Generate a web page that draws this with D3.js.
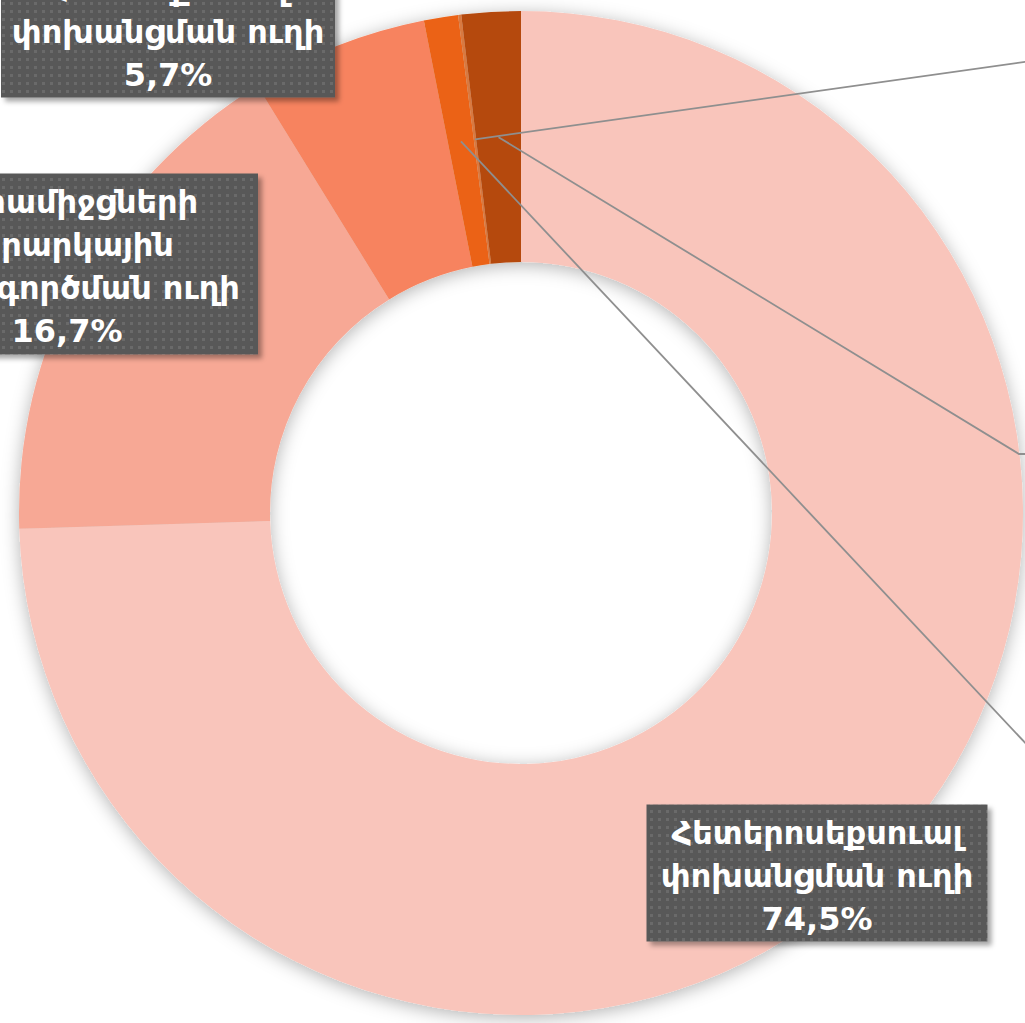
<!DOCTYPE html>
<html>
<head>
<meta charset="utf-8">
<script src="https://cdn.jsdelivr.net/npm/d3@7"></script>
<style>
  html, body { margin: 0; padding: 0; background: #fff; overflow: hidden; }
  .lbl { font-family: "DejaVu Sans", sans-serif; font-weight: bold; fill: #fff; }
</style>
</head>
<body>
<div id="chart"></div>
<script>
// slices, clockwise from 12 o'clock
var categories = [
    "Հետերոսեքսուալ փոխանցման ուղի",
    "Թմրամիջցների ներարկային օգտագործման ուղի",
    "Հոմոսեքսուալ փոխանցման ուղի",
    "Մորից երեխային փոխանցման ուղի",
    "Արյան փոխներարկման ուղի",
    "Անհայտ"
];
var values = [74.5, 16.7, 5.7, 1.1, 0.1, 1.9];
var valueLabels = ["74,5%", "16,7%", "5,7%", "1,1%", "0,1%", "1,9%"];
var labelLines = [
    ["Հետերոսեքսուալ", "փոխանցման ուղի", "74,5%"],
    ["Թմրամիջցների", "ներարկային", "օգտագործման ուղի", "16,7%"],
    ["Հոմոսեքսուալ", "փոխանցման ուղի", "5,7%"],
    ["Մորից երեխային", "փոխանցման ուղի", "1,1%"],
    ["Արյան", "փոխներարկման ուղի", "0,1%"],
    ["Անհայտ", "1,9%"]
];
var colors = ["#F9C5BB", "#F7A895", "#F7835E", "#EB6216", "#D9793F", "#B5490F"];

function main() {
    var width = 1025, height = 1023;
    var cx = 521, cy = 513;
    var outerR = 502, innerR = 251;

    // label box placement (box centre, box size); the last three sit off the page
    var boxes = [
        {x: 817, y: 873, w: 341, h: 137},
        {x: 67,  y: 264, w: 382, h: 181},
        {x: 168, y: 29,  w: 334, h: 137},
        {x: 1230, y: 830, w: 340, h: 137},
        {x: 1230, y: 40,  w: 340, h: 137},
        {x: 1230, y: 454, w: 300, h: 95}
    ];
    // where the leader line meets the label
    var anchors = [null, null, null,
        {x: 1060, y: 780},
        {x: 1060, y: 57},
        {x: 1060, y: 454, knee: 1019}];

    var svg = d3.select("#chart").append("svg")
        .attr("width", width)
        .attr("height", height);

    var defs = svg.append("defs");
    var sh = defs.append("filter").attr("id", "ringShadow")
        .attr("x", "-10%").attr("y", "-10%").attr("width", "120%").attr("height", "120%");
    sh.append("feDropShadow")
        .attr("dx", 0).attr("dy", 3)
        .attr("stdDeviation", 9)
        .attr("flood-color", "#000")
        .attr("flood-opacity", 0.3);

    var bsh = defs.append("filter").attr("id", "boxShadow")
        .attr("x", "-10%").attr("y", "-10%").attr("width", "130%").attr("height", "130%");
    bsh.append("feDropShadow")
        .attr("dx", 4).attr("dy", 4)
        .attr("stdDeviation", 2.5)
        .attr("flood-color", "#000")
        .attr("flood-opacity", 0.35);

    var pat = defs.append("pattern").attr("id", "dots")
        .attr("patternUnits", "userSpaceOnUse")
        .attr("width", 8).attr("height", 8);
    pat.append("rect").attr("width", 8).attr("height", 8).attr("fill", "#595959");
    pat.append("rect").attr("x", 2).attr("y", 2).attr("width", 3).attr("height", 3).attr("fill", "#6b6b6b");

    var pie = d3.pie().sort(null).value(function(d) { return d; });
    var arc = d3.arc().innerRadius(innerR).outerRadius(outerR);
    var mid = d3.arc().innerRadius((innerR + outerR) / 2).outerRadius((innerR + outerR) / 2);

    var arcs = pie(values);

    var g = svg.append("g").attr("transform", "translate(" + cx + "," + cy + ")");

    g.append("g").attr("filter", "url(#ringShadow)")
        .selectAll("path")
        .data(arcs)
        .enter().append("path")
        .attr("d", arc)
        .attr("fill", function(d, i) { return colors[i]; });

    // leader lines for the small slices
    arcs.forEach(function(d, i) {
        var a = anchors[i];
        if (!a) return;
        var c = mid.centroid(d);
        var pts = [[c[0] + cx, c[1] + cy]];
        if (a.knee) pts.push([a.knee, a.y]);
        pts.push([a.x, a.y]);
        svg.append("path")
            .attr("d", d3.line()(pts))
            .attr("fill", "none")
            .attr("stroke", "#8f8f8f")
            .attr("stroke-width", 1.8);
    });

    // label boxes
    var lineH = 43;
    boxes.forEach(function(b, i) {
        var lg = svg.append("g");
        lg.append("rect")
            .attr("x", b.x - b.w / 2)
            .attr("y", b.y - b.h / 2)
            .attr("width", b.w)
            .attr("height", b.h)
            .attr("fill", "url(#dots)")
            .attr("filter", "url(#boxShadow)");
        var lines = labelLines[i];
        var y0 = b.y - (lines.length - 1) * lineH / 2 + 2;
        lines.forEach(function(t, k) {
            lg.append("text")
                .attr("class", "lbl")
                .attr("x", b.x)
                .attr("y", y0 + k * lineH)
                .attr("dy", "0.36em")
                .attr("text-anchor", "middle")
                .style("font-size", "32px")
                .text(t);
        });
    });
}
main();
</script>
</body>
</html>
